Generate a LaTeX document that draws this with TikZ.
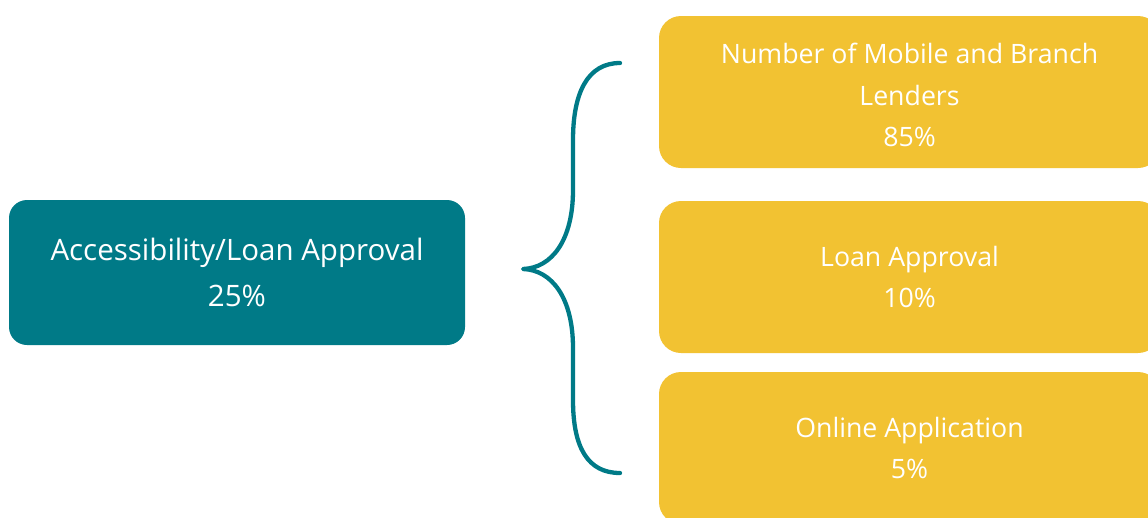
\documentclass[tikz,border=0pt]{standalone}
\usepackage{fontspec}
\setmainfont{Open Sans}
\definecolor{tealc}{HTML}{007A87}
\definecolor{yellowc}{HTML}{F2C232}
\begin{document}
\begin{tikzpicture}[x=1pt,y=-1pt,
  boxbase/.style={inner sep=0pt, align=center, text=white},
  tealbox/.style={boxbase, fill=tealc, rounded corners=18pt,
    minimum width=456pt, minimum height=145pt,
    font=\fontsize{29.5}{46}\selectfont},
  yellowbox/.style={boxbase, fill=yellowc, rounded corners=22pt,
    minimum width=501pt, minimum height=152pt,
    font=\fontsize{26.7}{41.5}\selectfont},
  bracestyle/.style={draw=tealc, line width=4.3pt, line cap=round, line join=round}]
\useasboundingbox (0,0) rectangle (1148,517);
\clip (0,0) rectangle (1148,517);
\node[tealbox] (main) at (237,272.5) {Accessibility/Loan Approval\\25\%};
\node[yellowbox] (lenders) at (909.5,92) {};
\node[boxbase, font=\fontsize{26.7}{41.5}\selectfont] (lenderstext) at (909.5,95) {Number of Mobile and Branch\\Lenders\\85\%};
\node[yellowbox] (approval) at (909.5,277) {Loan Approval\\10\%};
\node[yellowbox] (online) at (909.5,448) {Online Application\\5\%};
\coordinate (btop) at (620,63);
\coordinate (btip) at (523,269);
\coordinate (bbot) at (620,473);
\draw[bracestyle] (btop) .. controls (588,63) and (573,92) .. (573,140)
  -- (573,190) .. controls (573,240) and (552,268) .. (btip)
  .. controls (552,270) and (573,298) .. (573,348)
  -- (573,400) .. controls (573,448) and (588,473) .. (bbot);
\end{tikzpicture}
\end{document}
